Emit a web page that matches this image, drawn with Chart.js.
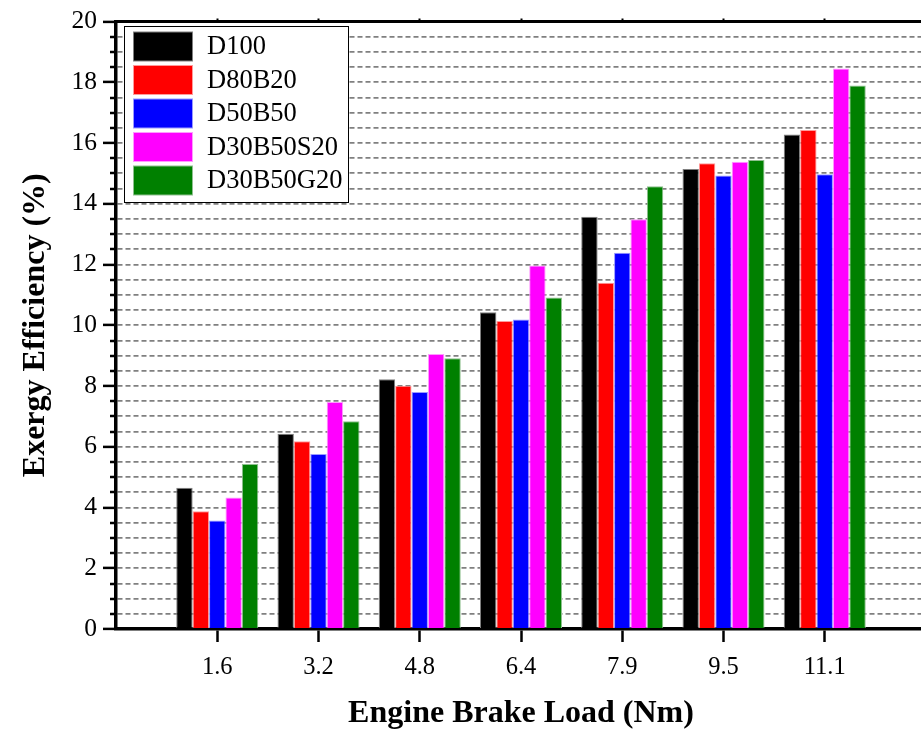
<!DOCTYPE html>
<html>
<head>
<meta charset="utf-8">
<script src="https://cdn.jsdelivr.net/npm/chart.js@4.4.0/dist/chart.umd.min.js"></script>
<style>
  html, body { margin: 0; padding: 0; background: #fff; overflow: hidden; }
  #wrap { width: 921px; height: 733px; overflow: hidden; }
</style>
</head>
<body>
<div id="wrap"><canvas id="chart" width="926" height="733"></canvas></div>
<script>
const loads = ['1.6', '3.2', '4.8', '6.4', '7.9', '9.5', '11.1'];
const d100 = [4.65, 6.43, 8.22, 10.43, 13.57, 15.14, 16.28];
const d80b20 = [3.88, 6.18, 8.01, 10.14, 11.40, 15.33, 16.43];
const d50b50 = [3.57, 5.76, 7.80, 10.19, 12.39, 14.93, 14.97];
const d30b50s20 = [4.33, 7.47, 9.05, 11.97, 13.49, 15.38, 18.45];
const d30b50g20 = [5.43, 6.84, 8.91, 10.91, 14.58, 15.44, 17.89];

const seriesNames = ['D100', 'D80B20', 'D50B50', 'D30B50S20', 'D30B50G20'];
const seriesValues = [d100, d80b20, d50b50, d30b50s20, d30b50g20];
const fills = ['#000000', '#ff0000', '#0000ff', '#ff00ff', '#008000'];
const edges = ['#808080', '#ff9a9a', '#9a9aff', '#ff9aff', '#8fc08f'];

const serif = "'Liberation Serif', 'Times New Roman', serif";

// one empty slot on each side, like the original plot
const labels = ['', ...loads, ''];
const padded = arr => [null, ...arr, null];
const tickOn = c => (labels[c.index] ? '#000' : 'rgba(0,0,0,0)');
const noSidePad = s => { s.paddingLeft = 0; s.paddingRight = 0; };

const boxedLegend = {
    id: 'boxedLegend',
    afterDatasetsDraw(chart) {
        const { ctx, chartArea } = chart;
        const x = chartArea.left + 8, y = chartArea.top + 4.5;
        const w = 224, h = 176, row = 33.5;
        ctx.save();
        ctx.fillStyle = '#fff';
        ctx.fillRect(x, y, w, h);
        ctx.strokeStyle = '#000';
        ctx.lineWidth = 1;
        ctx.strokeRect(x + 0.5, y + 0.5, w, h);
        ctx.font = `26.5px ${serif}`;
        ctx.textBaseline = 'middle';
        chart.data.datasets.forEach((ds, i) => {
            const by = y + 5.5 + i * row;
            ctx.fillStyle = ds.borderColor;
            ctx.fillRect(x + 9, by, 60, 30);
            ctx.fillStyle = ds.backgroundColor;
            ctx.fillRect(x + 10, by + 1, 58, 28);
            ctx.fillStyle = '#000';
            ctx.fillText(ds.label, x + 83, by + 16);
        });
        ctx.restore();
    }
};

new Chart(document.getElementById('chart'), {
    type: 'bar',
    data: {
        labels: labels,
        datasets: seriesNames.map((name, i) => ({
            label: name,
            data: padded(seriesValues[i]),
            backgroundColor: fills[i],
            borderColor: edges[i],
            borderWidth: 1,
            categoryPercentage: 0.81,
            barPercentage: 1
        }))
    },
    options: {
        responsive: false,
        animation: false,
        layout: { padding: 0 },
        plugins: { legend: { display: false }, tooltip: { enabled: false } },
        scales: {
            x: {
                offset: false,
                afterFit: s => { s.height = 104; noSidePad(s); },
                grid: { offset: false, drawOnChartArea: false, tickLength: 13, tickWidth: 2.5, tickColor: tickOn },
                border: { color: '#000', width: 3.5 },
                ticks: { autoSkip: false, maxRotation: 0, padding: 11, color: '#000', font: { family: serif, size: 24.5 } },
                title: {
                    display: true, text: 'Engine Brake Load (Nm)', color: '#000',
                    font: { family: serif, size: 32, weight: 'bold' }, padding: { top: 0, bottom: 0 }
                }
            },
            xTop: {
                type: 'category',
                position: 'top',
                offset: false,
                afterFit: s => { s.height = 21.5; noSidePad(s); },
                grid: { offset: false, drawOnChartArea: false, tickLength: 3, tickWidth: 2, tickColor: tickOn },
                border: { color: '#000', width: 3 },
                ticks: { display: false }
            },
            y: {
                min: 0,
                max: 20,
                afterFit: s => { s.width = 116; },
                ticks: {
                    stepSize: 0.5, autoSkip: false, padding: 6, color: '#000',
                    font: { family: serif, size: 25.5 },
                    callback: v => (v % 2 === 0 ? v : '')
                },
                grid: {
                    color: c => (c.tick && (c.tick.value === 0 || c.tick.value === 20) ? 'rgba(0,0,0,0)' : '#808080'),
                    lineWidth: 1.8,
                    tickLength: 13,
                    tickWidth: 2.5,
                    tickColor: '#000',
                    tickBorderDash: c => (c.tick && c.tick.value % 2 !== 0 ? [0, 7, 8, 50] : [])
                },
                border: { color: '#000', width: 3.5, dash: [5, 3] },
                title: {
                    display: true, text: 'Exergy Efficiency (%)', color: '#000',
                    font: { family: serif, size: 32, weight: 'bold' }, padding: { top: 17, bottom: 0 }
                }
            }
        }
    },
    plugins: [boxedLegend]
});
</script>
</body>
</html>
